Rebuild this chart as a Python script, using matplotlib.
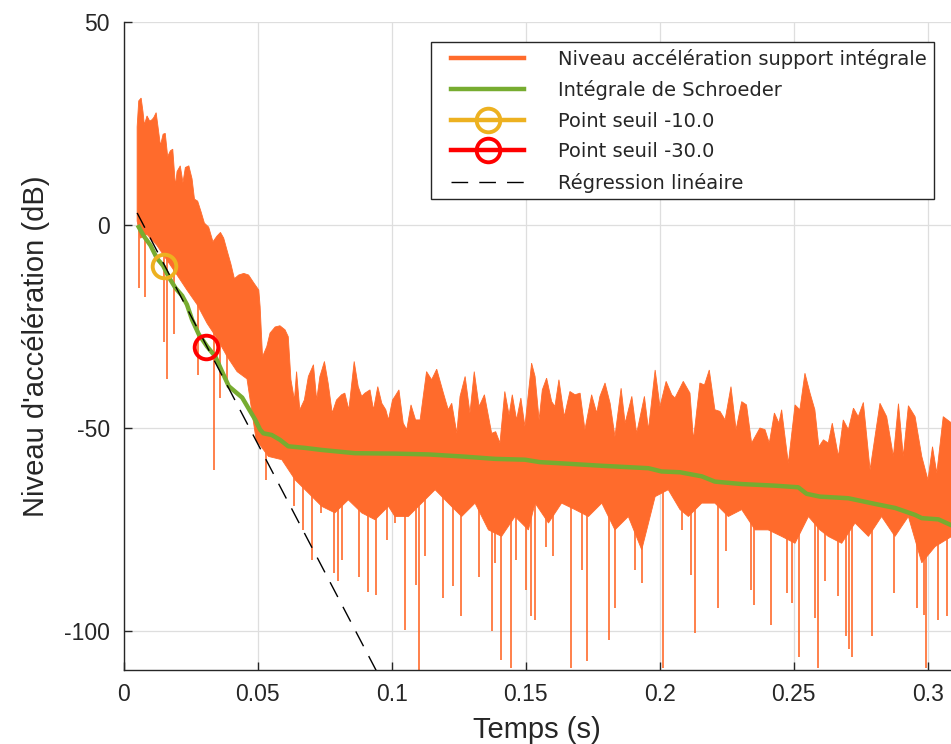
import numpy as np
import matplotlib
matplotlib.use("Agg")
import matplotlib.pyplot as plt
from matplotlib.lines import Line2D
from matplotlib.legend_handler import HandlerLine2D

# ---------------- data ----------------
# upper envelope of the acceleration level signal (s, dB)
top_t = [0.0050, 0.0056, 0.0065, 0.0072, 0.0077, 0.0087, 0.0097, 0.0106, 0.0112, 0.0121,
         0.0128, 0.0137, 0.0147, 0.0155, 0.0164, 0.0174, 0.0183, 0.0193, 0.0199, 0.0211,
         0.0221, 0.0230, 0.0243, 0.0255, 0.0264, 0.0276, 0.0289, 0.0301, 0.0317, 0.0333,
         0.0348, 0.0361, 0.0373, 0.0388, 0.0400, 0.0413, 0.0429, 0.0448, 0.0466, 0.0485,
         0.0504, 0.0509, 0.0518, 0.0534, 0.0546, 0.0565, 0.0583, 0.0602, 0.0614, 0.0624,
         0.0637, 0.0645, 0.0657, 0.0674, 0.0689, 0.0708, 0.0720, 0.0732, 0.0749, 0.0763,
         0.0778, 0.0794, 0.0813, 0.0825, 0.0840, 0.0860, 0.0875, 0.0888, 0.0900, 0.0919,
         0.0932, 0.0948, 0.0963, 0.0978, 0.0988, 0.1003, 0.1012, 0.1027, 0.1043, 0.1056,
         0.1072, 0.1089, 0.1106, 0.1130, 0.1149, 0.1168, 0.1193, 0.1211, 0.1224, 0.1243,
         0.1255, 0.1274, 0.1292, 0.1308, 0.1326, 0.1346, 0.1373, 0.1388, 0.1404, 0.1422,
         0.1438, 0.1450, 0.1466, 0.1482, 0.1497, 0.1522, 0.1535, 0.1550, 0.1562, 0.1578,
         0.1597, 0.1609, 0.1624, 0.1644, 0.1665, 0.1684, 0.1703, 0.1721, 0.1746, 0.1765,
         0.1777, 0.1796, 0.1815, 0.1833, 0.1856, 0.1871, 0.1896, 0.1914, 0.1943, 0.1958,
         0.1983, 0.2001, 0.2024, 0.2045, 0.2057, 0.2088, 0.2113, 0.2126, 0.2150, 0.2167,
         0.2185, 0.2206, 0.2225, 0.2244, 0.2266, 0.2285, 0.2306, 0.2324, 0.2343, 0.2374,
         0.2393, 0.2409, 0.2428, 0.2445, 0.2455, 0.2480, 0.2505, 0.2523, 0.2542, 0.2561,
         0.2579, 0.2594, 0.2611, 0.2629, 0.2644, 0.2667, 0.2685, 0.2704, 0.2723, 0.2741,
         0.2760, 0.2785, 0.2822, 0.2847, 0.2872, 0.2891, 0.2909, 0.2928, 0.2953, 0.2978,
         0.3001, 0.3018, 0.3034, 0.3058, 0.3090]
top_db = [24.2, 30.6, 31.3, 27.9, 24.7, 26.9, 25.6, 26.0, 26.5, 27.7,
          24.2, 19.6, 22.4, 22.6, 16.9, 18.3, 18.7, 9.6, 13.2, 14.6,
          10.5, 14.2, 14.6, 11.4, 6.4, 5.9, 3.2, 0.5, -0.5, -4.1,
          -2.7, -1.8, -3.2, -6.8, -9.6, -13.2, -12.3, -11.9, -12.3, -14.2,
          -16.0, -20.1, -32.4, -29.9, -26.6, -25.1, -24.8, -25.8, -27.5, -38.1,
          -43.1, -36.1, -45.5, -43.1, -37.3, -34.4, -43.1, -37.3, -33.6, -39.0,
          -46.3, -43.1, -41.8, -41.4, -45.5, -33.6, -39.8, -42.2, -41.4, -40.6,
          -45.5, -39.8, -43.9, -45.5, -48.0, -43.1, -42.2, -40.6, -48.8, -50.4,
          -44.3, -48.0, -48.0, -36.1, -38.1, -35.5, -41.4, -45.5, -43.9, -51.3,
          -42.2, -37.3, -46.3, -36.1, -44.7, -41.8, -51.3, -50.9, -53.7, -41.0,
          -46.8, -41.8, -48.0, -42.6, -49.6, -34.0, -37.3, -48.0, -40.6, -37.7,
          -43.5, -44.7, -38.1, -47.2, -41.0, -41.8, -41.4, -50.4, -41.8, -46.3,
          -42.2, -38.9, -43.9, -52.1, -40.2, -48.8, -42.2, -51.3, -42.2, -50.4,
          -35.7, -44.7, -38.5, -41.8, -42.6, -38.5, -41.4, -52.9, -38.9, -39.4,
          -35.7, -45.5, -45.9, -48.0, -39.8, -50.4, -43.5, -44.3, -53.7, -50.0,
          -50.4, -53.7, -46.3, -48.8, -45.5, -58.7, -44.3, -45.5, -36.5, -41.4,
          -45.5, -54.6, -52.9, -53.7, -48.8, -57.0, -48.0, -50.4, -45.1, -47.2,
          -43.7, -60.3, -43.9, -47.2, -57.0, -44.0, -57.0, -44.5, -47.2, -57.0,
          -62.8, -54.6, -61.1, -47.2, -48.8]

# lower edge of the dense part of the signal (s, dB)
low_t = [0.0050, 0.0062, 0.0087, 0.0124, 0.0162, 0.0199, 0.0236, 0.0274, 0.0311, 0.0348,
         0.0386, 0.0423, 0.0460, 0.0494, 0.0540, 0.0590, 0.0640, 0.0689, 0.0739, 0.0788,
         0.0838, 0.0888, 0.0938, 0.0988, 0.1012, 0.1062, 0.1112, 0.1162, 0.1211, 0.1261,
         0.1311, 0.1361, 0.1410, 0.1460, 0.1510, 0.1535, 0.1585, 0.1634, 0.1684, 0.1734,
         0.1784, 0.1833, 0.1883, 0.1933, 0.1983, 0.2032, 0.2076, 0.2107, 0.2157, 0.2206,
         0.2256, 0.2306, 0.2356, 0.2405, 0.2455, 0.2505, 0.2555, 0.2598, 0.2629, 0.2679,
         0.2729, 0.2779, 0.2828, 0.2878, 0.2928, 0.2978, 0.3028, 0.3090]
low_db = [1.0, -3.2, -2.3, -5.0, -8.7, -12.3, -16.0, -19.6, -24.2, -27.9,
          -32.4, -36.1, -37.9, -52.9, -57.0, -57.8, -62.8, -66.0, -69.3, -70.9,
          -67.7, -70.9, -72.6, -69.3, -71.8, -71.8, -68.5, -65.2, -68.5, -71.8,
          -68.5, -75.1, -76.7, -71.8, -75.1, -68.5, -73.4, -68.5, -70.1, -71.8,
          -68.5, -75.1, -71.8, -80.0, -66.9, -65.2, -70.1, -71.8, -68.5, -68.5,
          -71.8, -70.1, -75.1, -75.1, -76.7, -78.4, -71.8, -75.1, -76.7, -78.4,
          -73.4, -76.7, -71.8, -76.7, -71.8, -83.2, -79.2, -76.7]

# deep downward spikes of the signal (s, dB)
spike_t = [0.0056, 0.0081, 0.0149, 0.0162, 0.0187, 0.0276, 0.0338, 0.0361, 0.0386,
           0.0530, 0.0637, 0.0670, 0.0701, 0.0736, 0.0786, 0.0798, 0.0816, 0.0878, 0.0913,
           0.0943, 0.0982, 0.1012, 0.1050, 0.1089, 0.1102, 0.1124, 0.1190, 0.1230, 0.1259,
           0.1326, 0.1373, 0.1386, 0.1408, 0.1445, 0.1462, 0.1500, 0.1520, 0.1535, 0.1575,
           0.1603, 0.1669, 0.1709, 0.1729, 0.1810, 0.1835, 0.1907, 0.1935, 0.2013, 0.2082,
           0.2117, 0.2132, 0.2216, 0.2249, 0.2340, 0.2351, 0.2415, 0.2474, 0.2492, 0.2520,
           0.2579, 0.2592, 0.2617, 0.2664, 0.2694, 0.2706, 0.2716, 0.2794, 0.2873, 0.2960,
           0.2987, 0.2995, 0.3037, 0.3071]
spike_db = [-15.5, -17.8, -28.8, -37.9, -26.9, -37.0, -60.3, -42.5, -39.7,
            -62.8, -69.3, -75.0, -82.5, -70.9, -85.7, -87.8, -82.5, -86.6, -90.3,
            -91.1, -77.5, -73.4, -99.7, -88.6, -109.5, -81.6, -91.9, -89.0, -96.4,
            -86.6, -100.1, -83.3, -107.1, -109.2, -82.5, -89.9, -96.4, -97.2, -79.2,
            -81.6, -109.2, -84.9, -107.5, -102.2, -94.4, -84.9, -88.2, -109.2, -75.1,
            -86.1, -100.5, -94.4, -80.4, -89.9, -93.6, -98.5, -90.7, -93.2, -106.3,
            -96.9, -109.2, -87.8, -91.5, -101.3, -104.5, -106.3, -101.3, -90.7, -94.4,
            -96.0, -109.2, -97.2, -96.4]

# Schroeder integral (s, dB)
schroeder_t = [0.0052, 0.0075, 0.0100, 0.0124, 0.0147, 0.0168, 0.0193, 0.0218, 0.0236, 0.0255,
               0.0280, 0.0311, 0.0342, 0.0367, 0.0392, 0.0417, 0.0442, 0.0466, 0.0491, 0.0509,
               0.0521, 0.0552, 0.0583, 0.0614, 0.0677, 0.0739, 0.0801, 0.0863, 0.1012, 0.1137,
               0.1261, 0.1386, 0.1497, 0.1553, 0.1659, 0.1784, 0.1958, 0.2007, 0.2076, 0.2157,
               0.2206, 0.2306, 0.2430, 0.2517, 0.2548, 0.2598, 0.2704, 0.2804, 0.2879, 0.2953,
               0.2978, 0.3040, 0.3090]
schroeder_db = [0.0, -2.7, -5.0, -8.2, -10.0, -12.8, -15.5, -17.4, -19.6, -23.3,
                -26.9, -29.9, -32.4, -36.1, -39.7, -41.1, -42.5, -45.2, -48.0, -50.4,
                -51.3, -51.7, -52.9, -54.5, -54.9, -55.4, -55.8, -56.2, -56.3, -56.5,
                -57.0, -57.6, -57.8, -58.4, -58.8, -59.3, -59.9, -60.7, -60.9, -61.9,
                -63.2, -63.8, -64.2, -64.6, -66.2, -66.9, -67.3, -68.7, -69.7, -71.4,
                -72.2, -72.5, -74.0]

# threshold points
seuil10_t, seuil10_db = [0.0149], [-10.0]
seuil30_t, seuil30_db = [0.0307], [-30.0]

# linear regression end points
reg_t = [0.0050, 0.0960]
reg_db = [3.0, -112.0]

xticks = [0, 0.05, 0.1, 0.15, 0.2, 0.25, 0.3]
xticklabels = ["0", "0.05", "0.1", "0.15", "0.2", "0.25", "0.3"]
yticks = [-100, -50, 0, 50]
yticklabels = ["-100", "-50", "0", "50"]

labels = ["Niveau accélération support intégrale", "Intégrale de Schroeder",
          "Point seuil -10.0", "Point seuil -30.0", "Régression linéaire"]

# ---------------- styling ----------------
C_OR = "#FF6B2C"
C_GR = "#77AC30"
C_YE = "#EDB120"
C_RD = "#FF0000"
C_AX = "#262626"

plt.rcParams['font.family'] = ['Liberation Sans', 'DejaVu Sans']

fig = plt.figure(figsize=(9.51, 7.44), dpi=100)
ax = fig.add_axes([0.1301, 0.1001, 0.8699, 0.8701])
ax.set_xlim(0, 0.3087)
ax.set_ylim(-109.5, 50)

ax.grid(True, color="#DEDEDE", linewidth=0.9, zorder=0)
ax.set_axisbelow(True)

# signal band
poly_t = np.concatenate([top_t, low_t[::-1]])
poly_db = np.concatenate([top_db, low_db[::-1]])
ax.fill(poly_t, poly_db, color=C_OR, linewidth=0.6, edgecolor=C_OR, zorder=2)
spk_top = np.interp(spike_t, low_t, low_db) + 2.0
ax.vlines(spike_t, spike_db, spk_top, color=C_OR, linewidth=1.2, zorder=2)

ax.plot(schroeder_t, schroeder_db, color=C_GR, linewidth=3.2, zorder=3,
        solid_capstyle='butt')
ax.plot(reg_t, reg_db, color='black', linewidth=1.0, dashes=(12, 8), zorder=4)
ax.plot(seuil10_t, seuil10_db, 'o', ms=17, mfc='none', mec=C_YE, mew=2.8, zorder=5)
ax.plot(seuil30_t, seuil30_db, 'o', ms=17, mfc='none', mec=C_RD, mew=2.8, zorder=5)

ax.set_xticks(xticks)
ax.set_xticklabels(xticklabels)
ax.set_yticks(yticks)
ax.set_yticklabels(yticklabels)
ax.tick_params(direction='in', length=6, width=1.0, color=C_AX, labelcolor=C_AX,
               labelsize=16.5, pad=10)
for s in ['top', 'right']:
    ax.spines[s].set_visible(False)
for s in ['left', 'bottom']:
    ax.spines[s].set_color(C_AX)
    ax.spines[s].set_linewidth(1.0)

ax.set_xlabel("Temps (s)", fontsize=21, color=C_AX, labelpad=7)
ax.set_ylabel("Niveau d'accélération (dB)", fontsize=21, color=C_AX, labelpad=10)

# legend
handles = [
    Line2D([], [], color=C_OR, linewidth=3.2),
    Line2D([], [], color=C_GR, linewidth=3.2),
    Line2D([], [], color=C_YE, linewidth=3.2, marker='o', ms=17, mfc='none', mew=2.8),
    Line2D([], [], color=C_RD, linewidth=3.2, marker='o', ms=17, mfc='none', mew=2.8),
    Line2D([], [], color='black', linewidth=1.0, dashes=(12, 8)),
]
leg = ax.legend(handles, labels, loc='upper right', bbox_to_anchor=(0.9795, 0.9694),
                borderaxespad=0, prop={'family': 'DejaVu Sans', 'size': 14},
                handlelength=4.44, handletextpad=1.75, labelspacing=0.59,
                borderpad=0.35, numpoints=1, fancybox=False, framealpha=1,
                handler_map={Line2D: HandlerLine2D(xpad=0.68)})
leg.get_frame().set_edgecolor(C_AX)
leg.get_frame().set_linewidth(1.0)
for t in leg.get_texts():
    t.set_color(C_AX)

fig.savefig("out.png", dpi=100)
